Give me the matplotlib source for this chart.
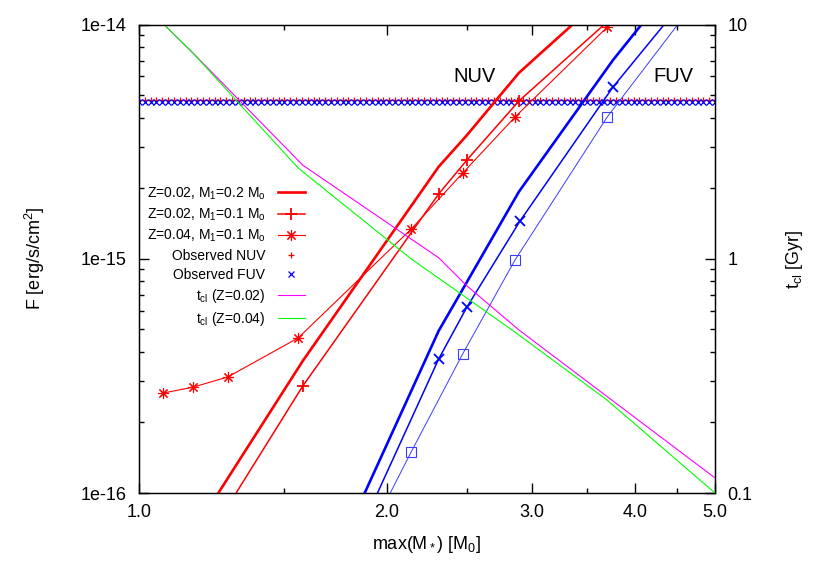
import numpy as np
import matplotlib
matplotlib.use('Agg')
import matplotlib.pyplot as plt
from matplotlib.lines import Line2D
from matplotlib.ticker import FixedLocator, NullFormatter, LogLocator

plt.rcParams['font.family'] = ['Liberation Sans', 'DejaVu Sans']
plt.rcParams['mathtext.fontset'] = 'custom'
plt.rcParams['mathtext.rm'] = 'Liberation Sans'
plt.rcParams['mathtext.it'] = 'Liberation Sans:italic'
plt.rcParams['mathtext.bf'] = 'Liberation Sans:bold'

# ---------------- data ----------------
# NUV, Z=0.02, M1=0.2 Msun (thick red)
m_nuv_02_02 = [1.20, 1.58, 2.31, 2.50, 2.89, 3.76]
f_nuv_02_02 = [8.05e-17, 3.66e-16, 2.47e-15, 3.37e-15, 6.21e-15, 1.43e-14]
# NUV, Z=0.02, M1=0.1 Msun (red +)
m_nuv_02_01 = [1.20, 1.58, 2.31, 2.50, 2.89, 3.76]
f_nuv_02_01 = [6.05e-17, 2.86e-16, 1.89e-15, 2.64e-15, 4.71e-15, 1.08e-14]
# NUV, Z=0.04, M1=0.1 Msun (red *)
m_nuv_04_01 = [1.069, 1.163, 1.282, 1.56, 2.14, 2.47, 2.86, 3.70]
f_nuv_04_01 = [2.67e-16, 2.83e-16, 3.13e-16, 4.59e-16, 1.34e-15, 2.32e-15, 4.03e-15, 9.75e-15]
# FUV, Z=0.02, M1=0.2 Msun (thick blue)
m_fuv_02_02 = [1.58, 2.31, 2.50, 2.89, 3.76, 4.50]
f_fuv_02_02 = [2.63e-17, 4.92e-16, 7.96e-16, 1.93e-15, 7.05e-15, 1.55e-14]
# FUV, Z=0.02, M1=0.1 Msun (blue x)
m_fuv_02_01 = [1.58, 2.31, 2.50, 2.90, 3.76, 4.50]
f_fuv_02_01 = [2.00e-17, 3.73e-16, 6.22e-16, 1.45e-15, 5.41e-15, 1.17e-14]
# FUV, Z=0.04, M1=0.1 Msun (blue squares)
m_fuv_04_01 = [1.56, 2.14, 2.47, 2.86, 3.70, 4.60]
f_fuv_04_01 = [1.70e-17, 1.50e-16, 3.92e-16, 9.89e-16, 4.03e-15, 1.10e-14]
# observed fluxes
obs_nuv = 4.75e-15
obs_fuv = 4.66e-15
obs_samples = 100
# cooling times
m_tcl_02 = [1.069, 1.163, 1.58, 2.31, 2.50, 2.89, 3.76, 5.0]
t_tcl_02 = [10.1, 7.55, 2.51, 1.01, 0.766, 0.497, 0.247, 0.116]
m_tcl_04 = [1.069, 1.163, 1.56, 2.14, 2.47, 2.86, 3.70, 5.0]
t_tcl_04 = [10.1, 7.55, 2.44, 0.998, 0.700, 0.486, 0.249, 0.100]

x_ticks = [1.0, 2.0, 3.0, 4.0, 5.0]
x_tick_labels = ['1.0', '2.0', '3.0', '4.0', '5.0']
x_minor = [1.5, 2.5, 3.5, 4.5]
yl_ticks = [1e-16, 1e-15, 1e-14]
yl_tick_labels = ['1e-16', '1e-15', '1e-14']
yr_ticks = [0.1, 1, 10]
yr_tick_labels = ['0.1', '1', '10']

RED = '#ff0000'
BLUE = '#0000ff'
LBLUE = '#3c3cff'
MAG = '#ff00ff'
GRN = '#00ff00'
ast = (8, 2, 0)

fig = plt.figure(figsize=(8.3, 5.81), dpi=100)
ax = fig.add_axes([139/830, 1-493/581, (715-139)/830, (493-24.5)/581])
ax.set_xscale('log')
ax.set_yscale('log')

ax.plot(m_nuv_02_02, f_nuv_02_02, color=RED, lw=1.9, zorder=3)
ax.plot(m_nuv_02_01, f_nuv_02_01, color=RED, lw=1.1, marker='+', ms=8, mew=1.3, zorder=3)
ax.plot(m_nuv_04_01, f_nuv_04_01, color=RED, lw=0.8, marker=ast, ms=8, mew=0.8, zorder=3)
ax.plot(m_fuv_02_02, f_fuv_02_02, color=BLUE, lw=1.9, zorder=3)
ax.plot(m_fuv_02_01, f_fuv_02_01, color=BLUE, lw=1.1, marker='x', ms=7, mew=1.3, zorder=3)
ax.plot(m_fuv_04_01, f_fuv_04_01, color=LBLUE, lw=0.7, marker='s', ms=6.5, mew=0.8,
        mfc='none', zorder=3)

xs = np.geomspace(1.0, 5.0, obs_samples)
ax.plot(xs, np.full(obs_samples, obs_nuv), ls='none', marker='+', ms=5, mew=0.9, color=RED, zorder=2)
ax.plot(xs, np.full(obs_samples, obs_fuv), ls='none', marker='x', ms=4, mew=0.9, color=BLUE, zorder=2)

ax.set_xlim(1.0, 5.0)
ax.set_ylim(1e-16, 1e-14)
ax.xaxis.set_major_locator(FixedLocator(x_ticks))
ax.set_xticklabels(x_tick_labels)
ax.xaxis.set_minor_locator(FixedLocator(x_minor))
ax.xaxis.set_minor_formatter(NullFormatter())
ax.yaxis.set_major_locator(FixedLocator(yl_ticks))
ax.set_yticklabels(yl_tick_labels)
ax.yaxis.set_minor_locator(LogLocator(base=10, subs=np.arange(2, 10)))
ax.yaxis.set_minor_formatter(NullFormatter())
ax.tick_params(which='both', direction='in', top=True, right=False, labelsize=13, width=1.0)
ax.tick_params(which='major', length=7)
ax.tick_params(which='minor', length=3.5)
ax.tick_params(axis='y', pad=9)
ax.tick_params(axis='x', pad=8)
for s in ax.spines.values():
    s.set_linewidth(1.0)

ax2 = ax.twinx()
ax2.set_yscale('log')
ax2.plot(m_tcl_02, t_tcl_02, color=MAG, lw=0.8)
ax2.plot(m_tcl_04, t_tcl_04, color=GRN, lw=0.8)
ax2.set_ylim(0.1, 10)
ax2.set_xlim(1.0, 5.0)
ax2.yaxis.set_major_locator(FixedLocator(yr_ticks))
ax2.set_yticklabels(yr_tick_labels)
ax2.yaxis.set_minor_locator(LogLocator(base=10, subs=np.arange(2, 10)))
ax2.yaxis.set_minor_formatter(NullFormatter())
ax2.tick_params(which='both', direction='in', labelsize=13, width=1.0, pad=9)
ax2.tick_params(which='major', length=7)
ax2.tick_params(which='minor', length=3.5)

ax.set_xlabel(r'max(M$_*$) [M$_0$]', fontsize=13, labelpad=9.5)
ax.set_ylabel(r'F [erg/s/cm$^2$]', fontsize=13, labelpad=24)
ax2.set_ylabel(r't$_\mathrm{cl}$ [Gyr]', fontsize=13, labelpad=23)

ax.text(0.583, 0.888, 'NUV', transform=ax.transAxes, fontsize=14.5, ha='center', va='center')
ax.text(0.927, 0.888, 'FUV', transform=ax.transAxes, fontsize=14.5, ha='center', va='center')

handles = [
    Line2D([], [], color=RED, lw=1.9),
    Line2D([], [], color=RED, lw=1.1, marker='+', ms=8, mew=1.3),
    Line2D([], [], color=RED, lw=0.8, marker=ast, ms=8, mew=0.8),
    Line2D([], [], ls='none', color=RED, marker='+', ms=5, mew=0.9),
    Line2D([], [], ls='none', color=BLUE, marker='x', ms=4, mew=0.9),
    Line2D([], [], color=MAG, lw=0.8),
    Line2D([], [], color=GRN, lw=0.8),
]
labels = [
    r'Z=0.02, M$_1$=0.2 M$_\mathrm{o}$',
    r'Z=0.02, M$_1$=0.1 M$_\mathrm{o}$',
    r'Z=0.04, M$_1$=0.1 M$_\mathrm{o}$',
    'Observed NUV',
    'Observed FUV',
    r't$_\mathrm{cl}$ (Z=0.02)',
    r't$_\mathrm{cl}$ (Z=0.04)',
]
leg = ax2.legend(handles, labels, loc='upper right', bbox_to_anchor=(0.288, 0.657),
                 frameon=False, markerfirst=False, fontsize=10, labelspacing=0.35,
                 handlelength=1.95, handletextpad=0.9, borderpad=0, borderaxespad=0)

fig.savefig('out.png', dpi=100)
